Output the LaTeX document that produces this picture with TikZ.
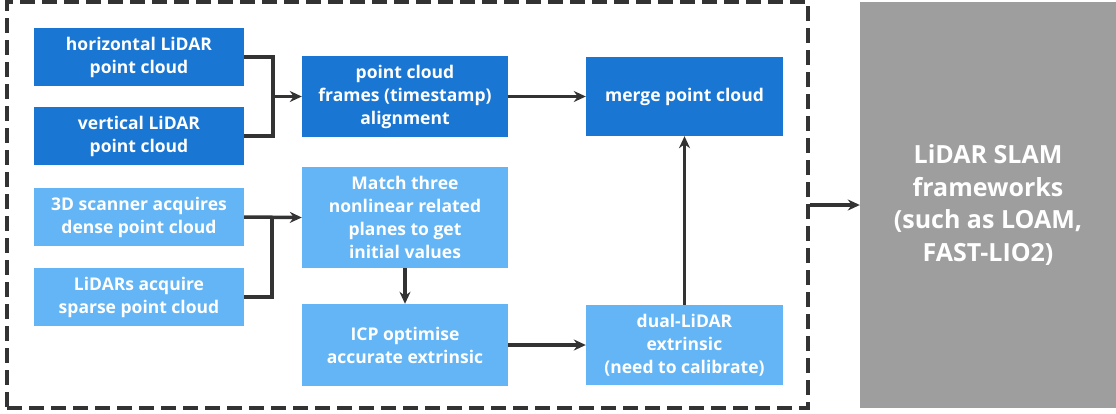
\documentclass[tikz,border=0pt]{standalone}
\usepackage{fontspec}
\setmainfont{Open Sans}
\usetikzlibrary{arrows.meta,positioning,calc}
\definecolor{darkblue}{RGB}{25,118,210}
\definecolor{lightblue}{RGB}{100,181,246}
\definecolor{slamgray}{RGB}{158,158,158}
\definecolor{linegray}{RGB}{51,51,51}
\begin{document}
\begin{tikzpicture}[x=1pt,y=-1pt,>={Stealth[length=12pt,width=11pt]},
 font=\fontsize{17.5}{23}\selectfont\bfseries,
 blk/.style={fill=darkblue,text=white,align=center,inner sep=0pt,minimum width=210pt,minimum height=58pt},
 lblk/.style={blk,fill=lightblue},
 conn/.style={draw=linegray,line width=3.5pt}]
\useasboundingbox (0,0) rectangle (1116,413);
% dashed frame and SLAM block
\node[draw=linegray,line width=3.5pt,dash pattern=on 15pt off 7pt,minimum width=801pt,minimum height=406pt,inner sep=0pt] (frame) at (407.5,205) {};
\node[fill=slamgray,text=white,align=center,minimum width=256pt,minimum height=406pt,inner sep=0pt,
 font=\fontsize{25}{32.5}\selectfont\bfseries] (slam) at (988,205) {LiDAR SLAM\\frameworks\\(such as LOAM,\\FAST-LIO2)};
% inputs
\node[blk] (hor) at (139,57) {horizontal LiDAR\\point cloud};
\node[blk] (ver) at (139,136) {vertical LiDAR\\point cloud};
\node[lblk] (scan) at (139,217) {3D scanner acquires\\dense point cloud};
\node[lblk] (sparse) at (139,297) {LiDARs acquire\\sparse point cloud};
% middle column
\node[blk,minimum width=206pt,minimum height=81pt] (align) at (405,96.5) {point cloud\\frames (timestamp)\\alignment};
\node[lblk,minimum width=206pt,minimum height=101pt] (match) at (405,217.5) {Match three\\nonlinear related\\planes to get\\initial values};
\node[lblk,minimum width=206pt,minimum height=82pt] (icp) at (405,345) {ICP optimise\\accurate extrinsic};
% right column
\node[blk,minimum width=197pt,minimum height=79pt] (merge) at (684.5,96.5) {merge point cloud};
\node[lblk,minimum width=197pt,minimum height=80pt] (dual) at (684.5,345) {dual-LiDAR\\extrinsic\\(need to calibrate)};
% connectors
\coordinate (j1) at (273,96.5);
\coordinate (j2) at (272,217);
\draw[conn] (hor.east) -| (j1);
\draw[conn] (ver.east) -| (j1);
\draw[conn,->] (j1) -- (align.west);
\draw[conn,->] (scan.east) -- (match.west);
\draw[conn] (sparse.east) -| (j2);
\draw[conn,->] (match) -- (icp);
\draw[conn,->] (icp) -- (dual);
\draw[conn,->] (dual) -- (merge);
\draw[conn,->] (align) -- (merge);
\draw[conn,->] (frame.east) -- (slam.west);
\end{tikzpicture}
\end{document}
